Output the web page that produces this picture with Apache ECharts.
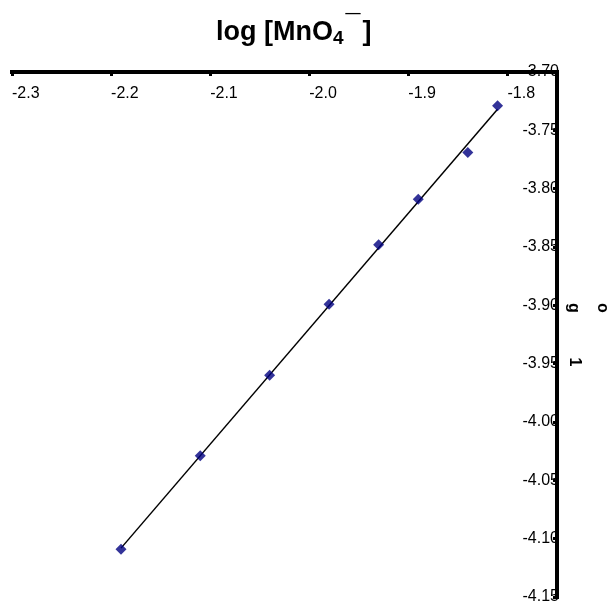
<!DOCTYPE html>
<html>
<head>
<meta charset="utf-8">
<script src="https://cdn.jsdelivr.net/npm/echarts@6/dist/echarts.min.js"></script>
<style>
html,body{margin:0;padding:0;background:#fff;}
#chart{width:608px;height:605px;}
</style>
</head>
<body>
<div id="chart"></div>
<script>
// Data
const logMnO4 = [-2.19, -2.11, -2.04, -1.98, -1.93, -1.89, -1.84, -1.81];
const logRate = [-4.109, -4.029, -3.960, -3.899, -3.848, -3.809, -3.769, -3.729];
const xTicks = { min: -2.3, max: -1.75, interval: 0.1 };
const yTicks = { min: -4.15, max: -3.70, interval: 0.05 };

// least-squares trend line through the data
const n = logMnO4.length;
const mx = logMnO4.reduce((a, b) => a + b, 0) / n;
const my = logRate.reduce((a, b) => a + b, 0) / n;
let sxy = 0, sxx = 0;
for (let i = 0; i < n; i++) { sxy += (logMnO4[i] - mx) * (logRate[i] - my); sxx += (logMnO4[i] - mx) ** 2; }
const slope = sxy / sxx, icpt = my - slope * mx;
const xLo = Math.min(...logMnO4), xHi = Math.max(...logMnO4);
const trend = [[xLo, slope * xLo + icpt], [xHi, slope * xHi + icpt]];

const FONT = 'Arial, "Liberation Sans", sans-serif';
const chart = echarts.init(document.getElementById('chart'));
const baseX = {
  type: 'value', position: 'top', min: xTicks.min, max: xTicks.max, interval: xTicks.interval,
  splitLine: { show: false }
};
const baseY = {
  type: 'value', position: 'right', min: yTicks.min, max: yTicks.max, interval: yTicks.interval,
  splitLine: { show: false }
};
chart.setOption({
  animation: false,
  backgroundColor: '#fff',
  title: {
    text: '{a|log [MnO}{sub|4}{sup|¯}{a|]}',
    left: 211, top: 10,
    textStyle: {
      rich: {
        a: { fontSize: 27, fontWeight: 'bold', fontFamily: FONT, color: '#000', lineHeight: 36 },
        sub: { fontSize: 19, fontWeight: 'bold', fontFamily: FONT, color: '#000', padding: [12, 0, 0, 0], lineHeight: 36 },
        sup: { fontSize: 27, fontWeight: 'bold', fontFamily: FONT, color: '#000', padding: [0, 2, 12, 2], lineHeight: 36 }
      }
    }
  },
  grid: { left: 12, right: 51, top: 72, bottom: 5, containLabel: false },
  xAxis: [
    Object.assign({}, baseX, {
      z: 1,
      axisLine: { show: false, onZero: false },
      axisTick: { show: true, inside: true, length: 4, lineStyle: { color: '#000', width: 3 } },
      axisLabel: {
        inside: true, margin: 14, align: 'left', showMaxLabel: false,
        fontSize: 16, fontFamily: FONT, color: '#000',
        formatter: v => (Math.abs(v - xTicks.max) < 1e-9 ? '' : v.toFixed(1))
      }
    }),
    Object.assign({}, baseX, {
      z: 6,
      axisLine: { show: true, onZero: false, lineStyle: { color: '#000', width: 4, cap: 'square' } },
      axisTick: { show: false }, axisLabel: { show: false }
    })
  ],
  yAxis: [
    Object.assign({}, baseY, {
      z: 1,
      axisLine: { show: false, onZero: false },
      axisTick: { show: true, inside: true, length: 4, lineStyle: { color: '#000', width: 3 } },
      axisLabel: {
        inside: true, margin: -2, fontSize: 16, fontFamily: FONT, color: '#000',
        formatter: v => v.toFixed(2)
      }
    }),
    Object.assign({}, baseY, {
      z: 6,
      axisLine: { show: true, onZero: false, lineStyle: { color: '#000', width: 4, cap: 'square' } },
      axisTick: { show: false }, axisLabel: { show: false }
    })
  ],
  graphic: [
    { type: 'text', x: 573, y: 308, rotation: -Math.PI / 2, style: { text: 'g', font: 'bold 16px ' + FONT, fill: '#000', align: 'center', verticalAlign: 'middle' } },
    { type: 'text', x: 602, y: 308, rotation: -Math.PI / 2, style: { text: 'o', font: 'bold 16px ' + FONT, fill: '#000', align: 'center', verticalAlign: 'middle' } },
    { type: 'text', x: 574, y: 362, rotation: -Math.PI / 2, style: { text: '1', font: 'bold 16px ' + FONT, fill: '#000', align: 'center', verticalAlign: 'middle' } }
  ],
  series: [
    {
      type: 'line', data: trend, showSymbol: false, symbol: 'none', z: 2,
      lineStyle: { color: '#000', width: 1.5 }, silent: true
    },
    {
      type: 'scatter', data: logMnO4.map((x, i) => [x, logRate[i]]), z: 3,
      symbol: 'diamond', symbolSize: 11, itemStyle: { color: '#000080' }
    }
  ]
});
</script>
</body>
</html>
